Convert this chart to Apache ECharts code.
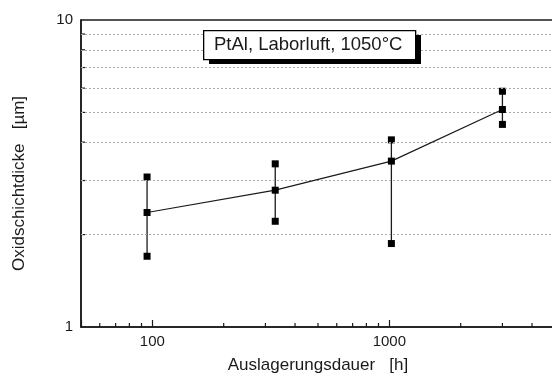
<!DOCTYPE html>
<html><head><meta charset="utf-8">
<script src="https://cdn.jsdelivr.net/npm/echarts@6/dist/echarts.min.js"></script>
<style>html,body{margin:0;padding:0;background:#fff}#c{width:552px;height:376px}</style>
</head><body><div id="c"></div>
<script>
const hours = [95, 330, 1020, 3000];
const meanThickness = [2.36, 2.79, 3.47, 5.11];
const upperThickness = [3.08, 3.40, 4.07, 5.86];
const lowerThickness = [1.70, 2.21, 1.87, 4.57];
const xRange = [50, 5000];
const yRange = [1, 10];
const xTickLabels = [100, 1000];
const yTickLabels = [1, 10];
const xMinorTicks = [60, 70, 80, 90, 200, 300, 400, 500, 600, 700, 800, 900, 2000, 3000, 4000];
const yMinorTicks = [2, 3, 4, 5, 6, 7, 8, 9];
const annotation = 'PtAl, Laborluft, 1050°C';
const xName = 'Auslagerungsdauer   [h]';
const yName = 'Oxidschichtdicke   [µm]';

const FONT = 'Liberation Sans';
const INK = '#1a1a1a';
const chart = echarts.init(document.getElementById('c'));

function near(list, v) { return list.some(t => Math.abs(t - v) / t < 1e-6); }

chart.setOption({
  animation: false,
  backgroundColor: '#fff',
  graphic: [
    { type: 'rect', left: 209, top: 35, shape: { width: 212, height: 29 }, style: { fill: '#000' }, z: 20 },
    { type: 'rect', left: 203, top: 30, shape: { width: 212, height: 29 }, style: { fill: '#fff', stroke: '#000', lineWidth: 1.3 }, z: 21 },
    { type: 'text', left: 214, top: 35, style: { text: annotation, fontFamily: FONT, fontSize: 18.5, fill: INK }, z: 22 }
  ],
  grid: { left: 81, top: 20, width: 474, height: 307, outerBoundsMode: 'none', containLabel: false,
    show: true, borderColor: INK, borderWidth: 1.5, backgroundColor: 'transparent' },
  xAxis: {
    type: 'log', logBase: 10, min: xRange[0], max: xRange[1],
    name: xName, nameLocation: 'middle', nameGap: 30,
    nameTextStyle: { fontFamily: FONT, fontSize: 17, color: INK },
    axisLine: { lineStyle: { color: INK, width: 1.5 } },
    axisTick: { inside: true, length: 7, lineStyle: { color: INK, width: 1.2 } },
    axisLabel: { fontFamily: FONT, fontSize: 15, color: INK, margin: 7,
      formatter: v => near(xTickLabels, v) ? String(Math.round(v)) : '' },
    splitLine: { show: false }
  },
  yAxis: {
    type: 'log', logBase: 10, min: yRange[0], max: yRange[1],
    name: yName, nameLocation: 'middle', nameGap: 53,
    nameTextStyle: { fontFamily: FONT, fontSize: 17, color: INK, padding: [0, 20, 0, 0] },
    axisLine: { lineStyle: { color: INK, width: 1.5 } },
    axisTick: { show: false },
    axisLabel: { fontFamily: FONT, fontSize: 15, color: INK, margin: 8,
      formatter: v => near(yTickLabels, v) ? String(Math.round(v)) : '' },
    splitLine: { show: false }
  },
  series: [
    {
      type: 'line',
      data: hours.map((h, i) => [h, meanThickness[i]]),
      symbol: 'rect', symbolSize: 7,
      itemStyle: { color: '#000' },
      lineStyle: { color: INK, width: 1.2 },
      z: 5,
      markLine: {
        silent: true, symbol: 'none', label: { show: false },
        lineStyle: { color: '#a8a8a8', type: [2, 2], width: 1 },
        data: yMinorTicks.map(v => ({ yAxis: v }))
      }
    },
    {
      type: 'custom',
      data: hours.map((h, i) => [h, lowerThickness[i], upperThickness[i]]),
      z: 4,
      renderItem: (params, api) => {
        const a = api.coord([api.value(0), api.value(1)]);
        const b = api.coord([api.value(0), api.value(2)]);
        const s = 7;
        return { type: 'group', children: [
          { type: 'line', shape: { x1: a[0], y1: a[1], x2: b[0], y2: b[1] }, style: { stroke: INK, lineWidth: 1.3 } },
          { type: 'rect', shape: { x: a[0] - s / 2, y: a[1] - s / 2, width: s, height: s }, style: { fill: '#000' } },
          { type: 'rect', shape: { x: b[0] - s / 2, y: b[1] - s / 2, width: s, height: s }, style: { fill: '#000' } }
        ]};
      }
    },
    {
      type: 'custom', silent: true,
      data: xMinorTicks.map(v => [v, yRange[0]]),
      renderItem: (params, api) => {
        const p = api.coord([api.value(0), api.value(1)]);
        return { type: 'line', shape: { x1: p[0], y1: p[1], x2: p[0], y2: p[1] - 4 }, style: { stroke: INK, lineWidth: 1.2 } };
      }
    },
    {
      type: 'custom', silent: true,
      data: yMinorTicks.map(v => [xRange[0], v]),
      renderItem: (params, api) => {
        const p = api.coord([api.value(0), api.value(1)]);
        return { type: 'line', shape: { x1: p[0], y1: p[1], x2: p[0] + 4, y2: p[1] }, style: { stroke: INK, lineWidth: 1.2 } };
      }
    }
  ]
});
</script></body></html>
